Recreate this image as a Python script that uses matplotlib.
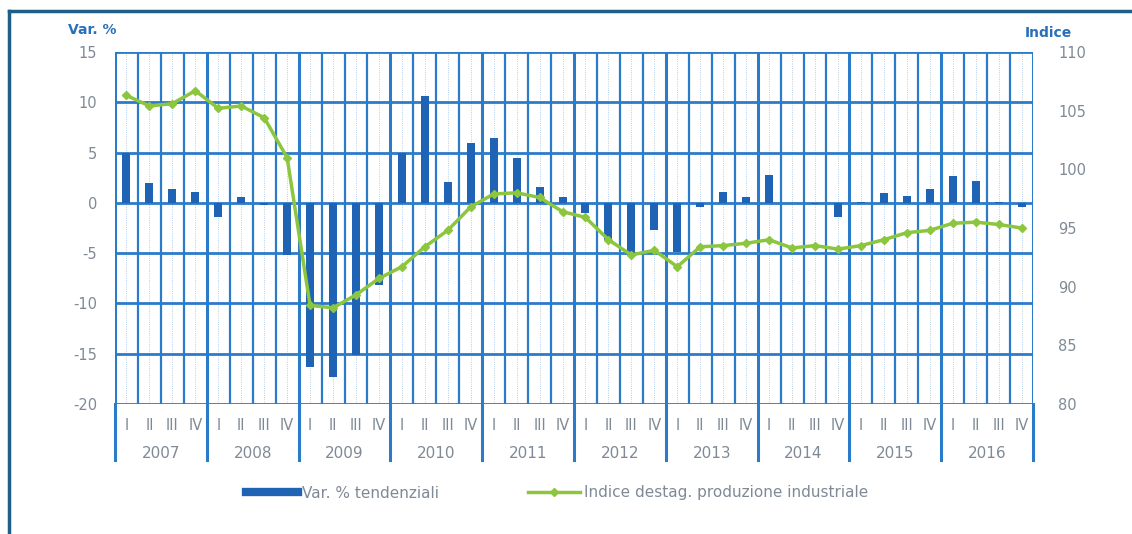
import matplotlib.pyplot as plt
import numpy as np
from matplotlib.lines import Line2D

plt.rcParams["axes.unicode_minus"] = False

years = ["2007", "2008", "2009", "2010", "2011", "2012", "2013", "2014", "2015", "2016"]
quarters = ["I", "II", "III", "IV"]

# Var. % tendenziali (left axis)
var_pct = [
    5.0, 2.0, 1.4, 1.1,
    -1.4, 0.6, -0.2, -5.2,
    -16.3, -17.3, -15.1, -8.2,
    5.0, 10.6, 2.1, 6.0,
    6.4, 4.5, 1.6, 0.6,
    -1.0, -3.7, -5.2, -2.7,
    -4.9, -0.4, 1.1, 0.6,
    2.8, 0.0, -0.1, -1.4,
    0.1, 1.0, 0.7, 1.4,
    2.7, 2.2, 0.1, -0.4,
]

# Indice destag. produzione industriale (right axis)
indice = [
    106.3, 105.4, 105.6, 106.7,
    105.2, 105.4, 104.4, 101.0,
    88.4, 88.2, 89.3, 90.7,
    91.7, 93.4, 94.8, 96.8,
    97.9, 98.0, 97.6, 96.4,
    95.9, 94.0, 92.7, 93.1,
    91.7, 93.4, 93.5, 93.7,
    94.0, 93.3, 93.5, 93.2,
    93.5, 94.0, 94.6, 94.8,
    95.4, 95.5, 95.3, 95.0,
]

bar_col = "#1f63b5"
grid_col = "#2b7bcb"
line_col = "#8cc63f"
txt_col = "#7f8a96"
head_col = "#2a6fba"

n = len(var_pct)
x = np.arange(n)

fig = plt.figure(figsize=(11.32, 5.34), dpi=100)
fig.patch.set_facecolor("white")

# outer frame (left and top edges)
fig.add_artist(Line2D([9 / 1132, 9 / 1132], [0, 1 - 11 / 534], color="#1d5f86", lw=2.5))
fig.add_artist(Line2D([9 / 1132, 1], [1 - 11 / 534, 1 - 11 / 534], color="#1d5f86", lw=2.5))

ax = fig.add_axes([115 / 1132, 1 - 404 / 534, 918 / 1132, 352 / 534])
ax2 = ax.twinx()

ax.set_xlim(-0.5, n - 0.5)
ax.set_ylim(-20, 15)
ax2.set_ylim(80, 110)

# grid
for b in np.arange(-0.5, n, 1):
    thick = (b + 0.5) % 4 == 0
    ax.axvline(b, color=grid_col, lw=2.2 if thick else 1.6, zorder=1)
for yv in range(-20, 16, 5):
    ax.axhline(yv, color=grid_col, lw=2.0, zorder=1)
for b in np.arange(0, n, 1):
    ax.axvline(b, color="#9cc0e6", lw=0.6, ls=":", zorder=0.5)

ax.bar(x, var_pct, width=0.35, color=bar_col, zorder=3)
ax2.plot(x, indice, color=line_col, lw=2.5, marker="D", ms=4, zorder=4)

for a in (ax, ax2):
    for s in a.spines.values():
        s.set_visible(False)

ax.set_yticks(range(-20, 16, 5))
ax.tick_params(axis="y", length=0, labelsize=10.5, labelcolor=txt_col, pad=13)
ax2.set_yticks(range(80, 111, 5))
ax2.tick_params(axis="y", length=0, labelsize=10.5, labelcolor=txt_col, pad=18)

ax.set_xticks(x)
ax.set_xticklabels(quarters * len(years))
ax.tick_params(axis="x", length=0, labelsize=10.5, labelcolor=txt_col, pad=10)

# year separators below axis and year labels
for i in range(len(years) + 1):
    xb = i * 4 - 0.5
    ax.plot([xb, xb], [-20, -25.6], color=grid_col, lw=2.2, clip_on=False, zorder=1)
for i, yr in enumerate(years):
    ax.text(i * 4 + 1.5, -24.9, yr, ha="center", va="center", fontsize=11,
            color=txt_col, clip_on=False)

fig.text(68 / 1132, 1 - 30 / 534, "Var. %", fontsize=10, fontweight="bold",
         color=head_col, ha="left", va="center")
fig.text(1025 / 1132, 1 - 33 / 534, "Indice", fontsize=10, fontweight="bold",
         color=head_col, ha="left", va="center")

handles = [
    Line2D([0], [0], color=bar_col, lw=6),
    Line2D([0], [0], color=line_col, lw=2.5, marker="D", ms=4),
]
leg = fig.legend(handles, ["Var. % tendenziali", "Indice destag. produzione industriale"],
                 loc="center", bbox_to_anchor=(557 / 1132, 1 - 493 / 534), ncol=2,
                 frameon=False, fontsize=11, handlelength=3.4, columnspacing=5.8,
                 handletextpad=0.26)
for t in leg.get_texts():
    t.set_color(txt_col)

fig.savefig("out.png", dpi=100)
